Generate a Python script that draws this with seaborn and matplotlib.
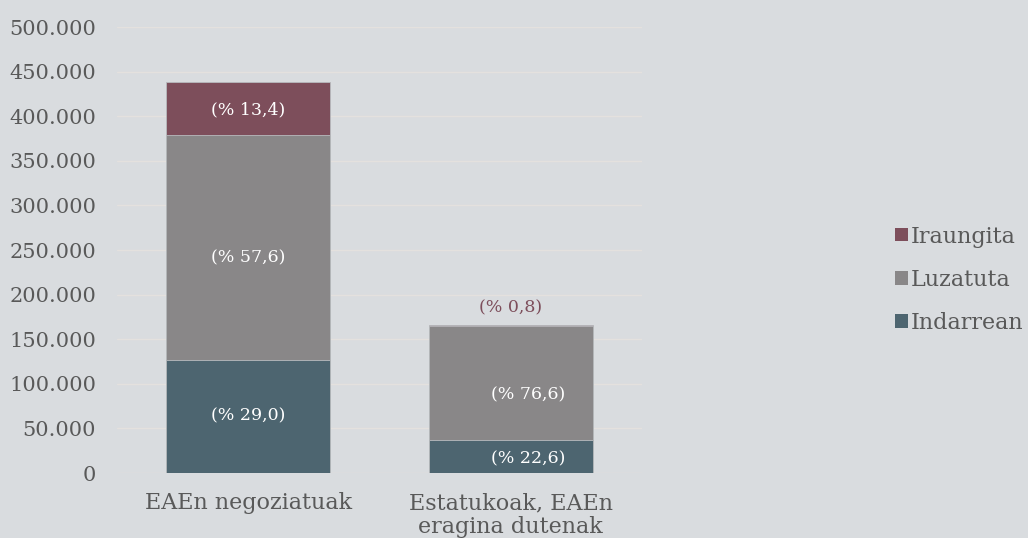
import matplotlib
matplotlib.use("Agg")
import matplotlib.pyplot as plt
import seaborn as sns
import numpy as np
from matplotlib.patches import Patch
from matplotlib.ticker import FuncFormatter

categories = ["EAEn negoziatuak", "Estatukoak, EAEn\neragina dutenak"]
series_names = ["Indarrean", "Luzatuta", "Iraungita"]
indarrean = [127000, 37500]
luzatuta = [252300, 127200]
iraungita = [58700, 1330]
pct_indarrean = ["(% 29,0)", "(% 22,6)"]
pct_luzatuta = ["(% 57,6)", "(% 76,6)"]
pct_iraungita = ["(% 13,4)", "(% 0,8)"]
yticks = [0, 50000, 100000, 150000, 200000, 250000, 300000, 350000, 400000, 450000, 500000]

colors = {"Indarrean": "#4D6570", "Luzatuta": "#898788", "Iraungita": "#7D4E5B"}
bg = "#D9DCDF"
textc = "#595959"

sns.set_theme(style="white")
plt.rcParams["font.family"] = ["DejaVu Serif", "DejaVu Sans"]

fig = plt.figure(figsize=(10.28, 5.38), dpi=100, facecolor=bg)
ax = fig.add_axes([0.1138, 0.1208, 0.5107, 0.829])
ax.set_facecolor(bg)

ind = np.array(indarrean, float)
luz = np.array(luzatuta, float)
ira = np.array(iraungita, float)
cum1 = ind
cum2 = ind + luz
cum3 = ind + luz + ira

for vals, name in [(cum3, "Iraungita"), (cum2, "Luzatuta"), (cum1, "Indarrean")]:
    sns.barplot(x=categories, y=vals, color=colors[name], saturation=1, width=0.626,
                ax=ax, edgecolor="#B8BBBE", linewidth=0.6, zorder=3)

ax.set_xlim(-0.5, 1.5)
ax.set_ylim(0, 500000)
ax.set_yticks(yticks)
ax.yaxis.set_major_formatter(FuncFormatter(lambda v, p: f"{int(v):,}".replace(",", ".")))
ax.grid(axis="y", color="#E4E1DE", linewidth=1, zorder=0)
ax.grid(axis="x", visible=False)
for s in ax.spines.values():
    s.set_visible(False)
ax.tick_params(axis="y", length=0, labelsize=15, colors=textc, pad=15)
ax.tick_params(axis="x", length=0, labelsize=16, colors=textc, pad=14)
ax.set_xlabel("")
ax.set_ylabel("")
for lbl in ax.get_xticklabels():
    lbl.set_linespacing(1.1)

# labels
lab_fs = 12.5
for i in range(len(categories)):
    dx = 0 if i == 0 else 0.065
    ax.text(i + dx, cum1[i] / 2 - (0 if i == 0 else 3000), pct_indarrean[i], ha="center", va="center",
            color="white", fontsize=lab_fs, zorder=5)
    ymid = (cum1[i] + cum2[i]) / 2 - (12000 if i == 0 else 14000)
    ax.text(i + dx, ymid, pct_luzatuta[i], ha="center", va="center",
            color="white", fontsize=lab_fs, zorder=5)
    if i == 0:
        ax.text(i, (cum2[i] + cum3[i]) / 2 - 1000, pct_iraungita[i], ha="center", va="center",
                color="white", fontsize=lab_fs, zorder=5)
    else:
        ax.text(i, cum3[i] + 19000, pct_iraungita[i], ha="center", va="center",
                color=colors["Iraungita"], fontsize=lab_fs, zorder=5)

handles = [Patch(facecolor=colors[n], edgecolor="none", label=n) for n in ["Iraungita", "Luzatuta", "Indarrean"]]
leg = fig.legend(handles=handles, loc="center left", bbox_to_anchor=(0.871, 0.48), frameon=False,
                 fontsize=16, handlelength=0.55, handleheight=0.55, handletextpad=0.15,
                 labelspacing=0.95, borderaxespad=0, borderpad=0)
for t in leg.get_texts():
    t.set_color(textc)

fig.savefig("out.png", dpi=100, facecolor=bg)
